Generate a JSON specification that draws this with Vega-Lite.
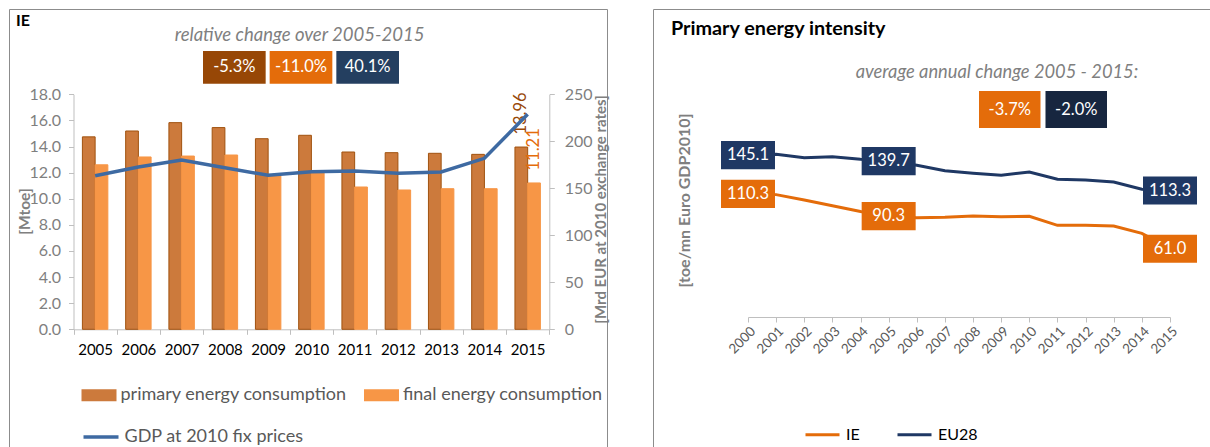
{
  "$schema": "https://vega.github.io/schema/vega-lite/v6.json",
  "padding": {"left": 8, "top": 8, "right": 0, "bottom": 0},
  "background": "white",
  "bounds": "flush",
  "spacing": 46,
  "config": {
    "font": "Lato",
    "view": {"stroke": null},
    "axis": {"labelFont": "Lato", "titleFont": "Lato", "grid": false, "domainColor": "#bfbfbf", "tickColor": "#bfbfbf"},
    "legend": {"labelFont": "Lato"},
    "title": {"font": "Lato"}
  },
  "hconcat": [
    {
      "width": 598,
      "height": 445,
      "view": {"stroke": "#8c8c8c", "strokeWidth": 1, "fill": "white"},
      "title": {"text": "IE", "anchor": "start", "frame": "group", "offset": -20, "dx": 7, "fontSize": 16, "fontWeight": "bold", "color": "#000000"},
      "resolve": {"scale": {"x": "independent", "y": "independent", "color": "independent"}},
      "layer": [
        {
          "resolve": {"scale": {"y": "independent", "color": "independent"}},
          "encoding": {
            "x": {
              "field": "year", "type": "ordinal",
              "scale": {"type": "band", "range": [64.5, 540.3], "paddingInner": 0, "paddingOuter": 0},
              "axis": {"orient": "bottom", "offset": -124.7, "title": null, "labelAngle": 0, "labelFontSize": 15, "labelColor": "#000000", "tickBand": "extent", "tickSize": 5, "labelPadding": 8, "domainColor": "#bfbfbf", "tickColor": "#bfbfbf"}
            }
          },
          "layer": [
            {
              "data": {"values": [
                {"year": "2005", "series": "primary energy consumption", "value": 14.74},
                {"year": "2005", "series": "final energy consumption", "value": 12.60},
                {"year": "2006", "series": "primary energy consumption", "value": 15.19},
                {"year": "2006", "series": "final energy consumption", "value": 13.20},
                {"year": "2007", "series": "primary energy consumption", "value": 15.83},
                {"year": "2007", "series": "final energy consumption", "value": 13.27},
                {"year": "2008", "series": "primary energy consumption", "value": 15.45},
                {"year": "2008", "series": "final energy consumption", "value": 13.35},
                {"year": "2009", "series": "primary energy consumption", "value": 14.60},
                {"year": "2009", "series": "final energy consumption", "value": 11.75},
                {"year": "2010", "series": "primary energy consumption", "value": 14.86},
                {"year": "2010", "series": "final energy consumption", "value": 12.00},
                {"year": "2011", "series": "primary energy consumption", "value": 13.58},
                {"year": "2011", "series": "final energy consumption", "value": 10.90},
                {"year": "2012", "series": "primary energy consumption", "value": 13.53},
                {"year": "2012", "series": "final energy consumption", "value": 10.67},
                {"year": "2013", "series": "primary energy consumption", "value": 13.48},
                {"year": "2013", "series": "final energy consumption", "value": 10.77},
                {"year": "2014", "series": "primary energy consumption", "value": 13.40},
                {"year": "2014", "series": "final energy consumption", "value": 10.77},
                {"year": "2015", "series": "primary energy consumption", "value": 13.96},
                {"year": "2015", "series": "final energy consumption", "value": 11.21}
              ]},
              "encoding": {
                "xOffset": {"field": "series", "type": "nominal", "scale": {"domain": ["primary energy consumption", "final energy consumption"], "paddingInner": 0, "paddingOuter": 0.7}},
                "y": {
                  "field": "value", "type": "quantitative",
                  "scale": {"domain": [0, 18], "range": [320.3, 85.3], "nice": false},
                  "axis": {"orient": "left", "offset": -64.5, "values": [0, 2, 4, 6, 8, 10, 12, 14, 16, 18], "format": ".1f", "labelFontSize": 16, "labelColor": "#7f7f7f", "tickSize": 5, "labelPadding": 8, "title": "[Mtoe]", "titleFontSize": 15.5, "titleFontWeight": "bold", "titleColor": "#808080", "titleAngle": 270, "titleX": -49, "titleY": 202, "titleAlign": "center", "titleBaseline": "middle"}
                }
              },
              "layer": [
                {
                  "mark": {"type": "bar", "strokeWidth": 1},
                  "encoding": {
                    "color": {
                      "field": "series", "type": "nominal",
                      "scale": {"domain": ["primary energy consumption", "final energy consumption"], "range": ["#cc7a3c", "#f79646"]},
                      "legend": {
                        "orient": "none", "legendX": 72.5, "legendY": 368.5, "direction": "horizontal", "columnPadding": 16.5, "padding": 0, "title": null,
                        "symbolType": "M-1,-0.34H1V0.34H-1Z", "symbolSize": 1225, "symbolStrokeWidth": 0,
                        "labelFontSize": 18, "labelColor": "#595959", "labelOffset": 4, "labelLimit": 400
                      }
                    },
                    "stroke": {"condition": {"test": "datum.series === 'primary energy consumption'", "value": "#a0520f"}, "value": "#f79646"}
                  }
                },
                {
                  "transform": [{"filter": {"field": "year", "equal": "2015"}}],
                  "mark": {"type": "text", "angle": 270, "align": "left", "baseline": "middle", "dx": 12.5, "fontSize": 16.5},
                  "encoding": {
                    "text": {"field": "value", "type": "quantitative", "format": ".2f"},
                    "color": {"condition": {"test": "datum.series === 'primary energy consumption'", "value": "#984807"}, "value": "#e46c0a"}
                  }
                }
              ]
            },
            {
              "data": {"values": [
                {"year": "2005", "series": "GDP at 2010 fix prices", "gdp": 163.3},
                {"year": "2006", "series": "GDP at 2010 fix prices", "gdp": 172.7},
                {"year": "2007", "series": "GDP at 2010 fix prices", "gdp": 180.1},
                {"year": "2008", "series": "GDP at 2010 fix prices", "gdp": 171.9},
                {"year": "2009", "series": "GDP at 2010 fix prices", "gdp": 163.8},
                {"year": "2010", "series": "GDP at 2010 fix prices", "gdp": 167.7},
                {"year": "2011", "series": "GDP at 2010 fix prices", "gdp": 168.4},
                {"year": "2012", "series": "GDP at 2010 fix prices", "gdp": 165.9},
                {"year": "2013", "series": "GDP at 2010 fix prices", "gdp": 167.3},
                {"year": "2014", "series": "GDP at 2010 fix prices", "gdp": 181.9},
                {"year": "2015", "series": "GDP at 2010 fix prices", "gdp": 228.8}
              ]},
              "mark": {"type": "line", "strokeWidth": 3.5},
              "encoding": {
                "y": {
                  "field": "gdp", "type": "quantitative",
                  "scale": {"domain": [0, 250], "range": [320.3, 85.3], "nice": false},
                  "axis": {"orient": "right", "offset": -57.7, "values": [0, 50, 100, 150, 200, 250], "format": "d", "labelFontSize": 16, "labelColor": "#7f7f7f", "tickSize": 5, "labelPadding": 10, "title": "[Mrd EUR at 2010 exchange rates]", "titleFontSize": 15, "titleFontWeight": "bold", "titleColor": "#808080", "titleAngle": 270, "titleX": 50.7, "titleY": 200, "titleAlign": "center", "titleBaseline": "middle"}
                },
                "color": {
                  "field": "series", "type": "nominal",
                  "scale": {"domain": ["GDP at 2010 fix prices"], "range": ["#3e6aa2"]},
                  "legend": {
                    "orient": "none", "legendX": 72.5, "legendY": 408.5, "padding": 0, "title": null,
                    "symbolType": "stroke", "symbolSize": 1225, "symbolStrokeWidth": 3.5,
                    "labelFontSize": 18, "labelColor": "#595959", "labelOffset": 4, "labelLimit": 400
                  }
                }
              }
            }
          ]
        },
        {
          "data": {"values": [
            {"key": "primary", "row": "badge", "label": "-5.3%"},
            {"key": "final", "row": "badge", "label": "-11.0%"},
            {"key": "GDP", "row": "badge", "label": "40.1%"},
            {"key": "final", "row": "header", "label": "relative change over 2005-2015"}
          ]},
          "encoding": {
            "x": {"field": "key", "type": "nominal", "scale": {"domain": ["primary", "final", "GDP"], "range": [194, 390], "paddingInner": 0.06, "paddingOuter": 0}, "axis": null},
            "y": {"field": "row", "type": "nominal", "scale": {"domain": ["header", "badge"], "range": [9.3, 74.7], "paddingInner": 0, "paddingOuter": 0}, "axis": null}
          },
          "layer": [
            {
              "transform": [{"filter": "datum.row === 'badge'"}],
              "mark": {"type": "rect"},
              "encoding": {"color": {"field": "key", "type": "nominal", "scale": {"domain": ["primary", "final", "GDP"], "range": ["#974706", "#e46c0a", "#243f60"]}, "legend": null}}
            },
            {
              "transform": [{"filter": "datum.row === 'badge'"}],
              "mark": {"type": "text", "color": "white", "fontSize": 16.5, "baseline": "middle"},
              "encoding": {"text": {"field": "label", "type": "nominal"}}
            },
            {
              "transform": [{"filter": "datum.row === 'header'"}],
              "mark": {"type": "text", "color": "#7f7f7f", "fontSize": 18.5, "fontStyle": "italic", "baseline": "middle", "dx": -1.5},
              "encoding": {"text": {"field": "label", "type": "nominal"}}
            }
          ]
        }
      ]
    },
    {
      "width": 562,
      "height": 445,
      "view": {"stroke": "#8c8c8c", "strokeWidth": 1, "fill": "white"},
      "title": {"text": "Primary energy intensity", "anchor": "start", "frame": "group", "offset": -30, "dx": 18, "fontSize": 19.8, "fontWeight": "bold", "color": "#000000"},
      "resolve": {"scale": {"x": "independent", "y": "independent", "color": "independent"}},
      "layer": [
        {
          "data": {"values": [
            {"year": "2000", "region": "IE", "value": 110.3},
            {"year": "2001", "region": "IE", "value": 109.6},
            {"year": "2002", "region": "IE", "value": 104.8},
            {"year": "2003", "region": "IE", "value": 99.6},
            {"year": "2004", "region": "IE", "value": 94.5},
            {"year": "2005", "region": "IE", "value": 90.3},
            {"year": "2006", "region": "IE", "value": 88.9},
            {"year": "2007", "region": "IE", "value": 89.3},
            {"year": "2008", "region": "IE", "value": 90.4},
            {"year": "2009", "region": "IE", "value": 89.8},
            {"year": "2010", "region": "IE", "value": 90.1},
            {"year": "2011", "region": "IE", "value": 82.0},
            {"year": "2012", "region": "IE", "value": 82.0},
            {"year": "2013", "region": "IE", "value": 81.4},
            {"year": "2014", "region": "IE", "value": 74.8},
            {"year": "2015", "region": "IE", "value": 61.0},
            {"year": "2000", "region": "EU28", "value": 145.1},
            {"year": "2001", "region": "EU28", "value": 146.0},
            {"year": "2002", "region": "EU28", "value": 142.8},
            {"year": "2003", "region": "EU28", "value": 143.7},
            {"year": "2004", "region": "EU28", "value": 141.4},
            {"year": "2005", "region": "EU28", "value": 139.7},
            {"year": "2006", "region": "EU28", "value": 136.0},
            {"year": "2007", "region": "EU28", "value": 131.1},
            {"year": "2008", "region": "EU28", "value": 128.8},
            {"year": "2009", "region": "EU28", "value": 127.0},
            {"year": "2010", "region": "EU28", "value": 129.9},
            {"year": "2011", "region": "EU28", "value": 123.4},
            {"year": "2012", "region": "EU28", "value": 122.8},
            {"year": "2013", "region": "EU28", "value": 121.0},
            {"year": "2014", "region": "EU28", "value": 114.4},
            {"year": "2015", "region": "EU28", "value": 113.3}
          ]},
          "encoding": {
            "x": {
              "field": "year", "type": "ordinal",
              "scale": {"type": "point", "range": [95, 517], "padding": 0},
              "axis": {"orient": "bottom", "offset": -137, "title": null, "labelAngle": -45, "labelFontSize": 13.5, "labelColor": "#595959", "tickSize": 5, "labelPadding": 2, "domainColor": "#bfbfbf", "tickColor": "#bfbfbf"}
            },
            "y": {
              "field": "value", "type": "quantitative",
              "scale": {"domain": [0, 200], "range": [307.5, 85.1], "nice": false},
              "axis": {"orient": "left", "domain": false, "ticks": false, "labels": false, "grid": false, "title": "[toe/mn Euro GDP2010]", "titleX": 31, "titleY": 191, "titleAngle": 270, "titleAlign": "center", "titleBaseline": "middle", "titleFontSize": 16, "titleFontWeight": "bold", "titleColor": "#7f7f7f"}
            }
          },
          "layer": [
            {
              "mark": {"type": "line", "strokeWidth": 3},
              "encoding": {
                "color": {
                  "field": "region", "type": "nominal",
                  "scale": {"domain": ["IE", "EU28"], "range": ["#e46c0a", "#1f3864"]},
                  "legend": {"orient": "none", "legendX": 151, "legendY": 407, "direction": "horizontal", "title": null, "symbolType": "stroke", "symbolStrokeWidth": 3, "symbolSize": 1156, "labelFontSize": 16, "labelColor": "#000000", "labelOffset": 5, "columnPadding": 31, "padding": 0}
                }
              }
            },
            {
              "transform": [{"filter": {"field": "year", "oneOf": ["2000", "2005", "2015"]}}],
              "mark": {"type": "point", "shape": "M-1,-0.52H1V0.52H-1Z", "size": 2916, "filled": true, "opacity": 1},
              "encoding": {"fill": {"condition": {"test": "datum.region === 'IE'", "value": "#e46c0a"}, "value": "#1f3864"}}
            },
            {
              "transform": [{"filter": {"field": "year", "oneOf": ["2000", "2005", "2015"]}}],
              "mark": {"type": "text", "color": "white", "fontSize": 16.5, "baseline": "middle"},
              "encoding": {"text": {"field": "value", "type": "quantitative", "format": ".1f"}}
            }
          ]
        },
        {
          "data": {"values": [
            {"key": "IE", "row": "badge", "label": "-3.7%"},
            {"key": "EU28", "row": "badge", "label": "-2.0%"},
            {"key": "EU28", "row": "header", "label": "average annual change 2005 - 2015:"}
          ]},
          "encoding": {
            "x": {"field": "key", "type": "nominal", "scale": {"domain": ["IE", "EU28"], "range": [326, 454], "paddingInner": 0.075, "paddingOuter": 0}, "axis": null},
            "y": {"field": "row", "type": "nominal", "scale": {"domain": ["header", "badge"], "range": [45, 119], "paddingInner": 0, "paddingOuter": 0}, "axis": null}
          },
          "layer": [
            {
              "transform": [{"filter": "datum.row === 'badge'"}],
              "mark": {"type": "rect"},
              "encoding": {"color": {"field": "key", "type": "nominal", "scale": {"domain": ["IE", "EU28"], "range": ["#e46c0a", "#17263f"]}, "legend": null}}
            },
            {
              "transform": [{"filter": "datum.row === 'badge'"}],
              "mark": {"type": "text", "color": "white", "fontSize": 16.5, "baseline": "middle"},
              "encoding": {"text": {"field": "label", "type": "nominal"}}
            },
            {
              "transform": [{"filter": "datum.row === 'header'"}],
              "mark": {"type": "text", "color": "#7f7f7f", "fontSize": 18.3, "fontStyle": "italic", "baseline": "middle", "align": "right", "dx": 62},
              "encoding": {"text": {"field": "label", "type": "nominal"}}
            }
          ]
        }
      ]
    }
  ]
}
